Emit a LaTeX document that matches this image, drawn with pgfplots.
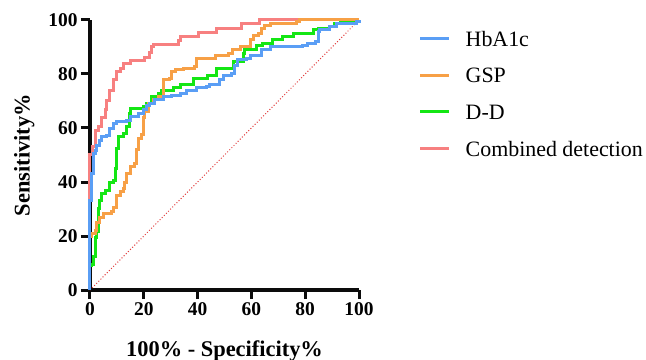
\documentclass[border=0pt]{standalone}
\usepackage{fontspec}
\setmainfont{Liberation Serif}
\usepackage{pgfplots}
\pgfplotsset{compat=1.18}
\definecolor{cblue}{RGB}{90,158,245}
\definecolor{corange}{RGB}{247,160,70}
\definecolor{cgreen}{RGB}{20,230,20}
\definecolor{cred}{RGB}{247,128,128}
\definecolor{cdiag}{RGB}{225,60,60}
\definecolor{axblack}{RGB}{12,12,12}
\begin{document}
\begin{tikzpicture}
\begin{axis}[
  scale only axis,
  width=269bp, height=270bp,
  xmin=0, xmax=100, ymin=0, ymax=100,
  enlargelimits=false,
  clip=false,
  axis lines=left,
  axis line style={-, line width=3.2bp, axblack},
  tick align=outside,
  major tick length=9bp,
  major tick style={axblack, line width=3bp},
  xtick={0,20,40,60,80,100}, ytick={0,20,40,60,80,100},
  /pgf/number format/assume math mode=true,
  ticklabel style={font=\bfseries\fontsize{19.5}{19.5}\selectfont},
  xlabel={\bfseries 100\% - Specificity\%},
  ylabel={\bfseries Sensitivity\%},
  label style={font=\bfseries\fontsize{22.5}{22.5}\selectfont},
  xlabel style={yshift=-18bp},
  ylabel style={yshift=7bp},
  reverse legend,
  legend cell align=left,
  legend image code/.code={\draw[#1, line width=3bp] (0bp,0bp) -- (29bp,0bp);},
  legend style={at={(1.21,0.975)}, anchor=north west, draw=none, fill=none,
    font=\fontsize{22}{22}\selectfont, row sep=18bp,
    nodes={inner sep=2bp, text depth=0pt},
    /tikz/every odd column/.append style={column sep=13bp}},
  every axis plot/.append style={line width=3bp, line join=miter},
]
\addplot[cdiag, line width=1bp, dotted, forget plot] coordinates {(0,0) (100,100)};
\addplot[cred, const plot] coordinates {
(0,0) (0,50) (1.0,53) (1.9,59) (3.1,60.5) (4.3,64) (5.6,67) (6.2,70) (7.4,74)
(8.7,78) (9.7,81) (11.2,82) (12.4,84) (14.9,85) (20.4,86) (22.3,88) (22.9,90)
(23.5,91) (32.8,92.5) (33.5,94) (40.3,95.5) (47,97) (56.4,98.8) (63,100) (100,100)};
\addlegendentry{Combined detection}
\addplot[cgreen, const plot] coordinates {
(0,0) (0,9) (0.6,9.3) (1.2,12.3) (1.9,19.6) (2.5,21.5) (3.1,30.3) (3.7,33.3)
(4.3,35.8) (5.6,37) (7.4,40) (8.7,40.7) (9.3,45) (9.9,52.5) (10.5,56.8)
(12.4,58) (13.6,60.4) (14.6,65.4) (15.1,67.3) (19.8,67.9) (21,69.1) (22.9,71.6)
(25.4,72.8) (26.6,74) (31,75) (33.5,76) (38.4,78.4) (43.5,79.6) (47,82)
(53.2,84.5) (57,87.7) (57.6,89) (62,90.7) (64,91.4) (68,92.6) (71.7,93.8)
(75.6,95) (83,96.3) (85,97) (89.2,97.5) (91,98.8) (93,99.4) (99,100) (100,100)};
\addlegendentry{D-D}
\addplot[corange, const plot] coordinates {
(0,0) (0,20) (0.6,21) (1.9,22) (2.5,25) (3.7,27) (5.0,28.5) (8.1,29) (8.7,30.5)
(9.7,33.5) (9.9,35) (11.2,36.5) (12.4,37.7) (13,40) (13.6,43) (14.9,45.7)
(16.7,47) (17.4,52) (18,56) (19.2,57.5) (19.8,64) (20.4,66) (21.7,69)
(23.5,70.4) (25.4,71.6) (27.3,77.8) (29.7,78.4) (30.4,80.8) (31.6,81.5)
(34.7,82) (39,82.7) (39.7,85.8) (46.5,86.7) (51.4,87.7) (53,88.9) (55.8,90)
(59.5,92.6) (60.7,94.4) (62.5,95) (63.8,97) (65,98) (67,98.7) (76.8,99.4)
(78,100) (100,100)};
\addlegendentry{GSP}
\addplot[cblue, const plot] coordinates {
(0,0) (0,33.3) (0.6,43.2) (1.2,50.6) (1.9,51.8) (2.5,53.7) (3.7,55.5) (4.3,56.8)
(6.2,57.4) (7.4,59.9) (8.7,61.7) (9.9,62.3) (13.6,62.9) (14.9,64.2) (18,65.4)
(19.8,66.7) (21,68.5) (22.3,69.1) (24.1,70.4) (27.3,71.6) (30.4,72.2)
(33.5,72.8) (35.9,74) (39.7,75) (43.4,75.4) (44.6,76) (48.3,77.8) (49.6,79.4)
(52.7,80.2) (53.9,83.3) (55,85.2) (58.1,85.8) (59.5,87) (63.8,88.9) (67,90.1)
(79,90.7) (81,91.4) (84,92) (84.8,95.7) (85.5,96.3) (89.2,97.5) (91.7,98.8)
(99,99.4) (100,100)};
\addlegendentry{HbA1c}
\end{axis}
\pgfresetboundingbox
\path[use as bounding box] (-90bp,-70bp) rectangle (556bp,290bp);
\end{tikzpicture}
\end{document}
